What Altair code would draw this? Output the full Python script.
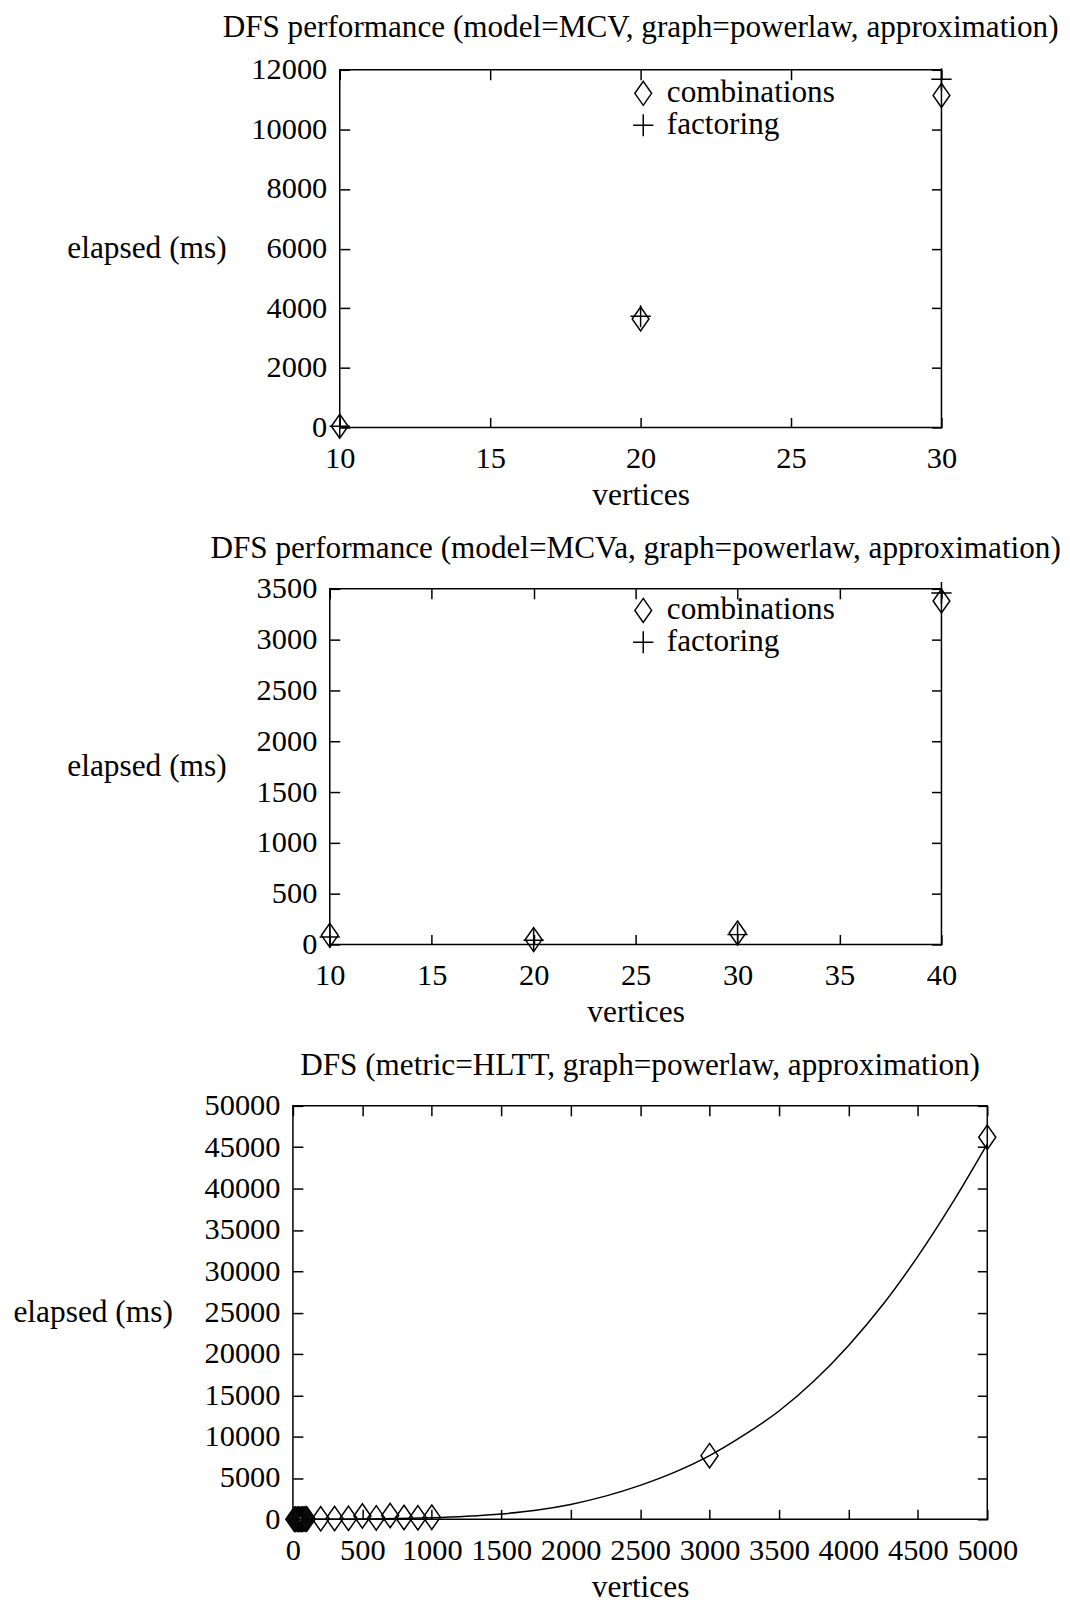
import altair as alt
import pandas as pd

# ---------------- data ----------------
p1_x = [10, 20, 30]
p1_comb = [40, 3640, 11140]
p1_fact = [40, 3730, 11680]

p2_x = [10, 20, 30, 40]
p2_comb = [90, 48, 113, 3380]
p2_fact = [74, 42, 97, 3460]

p3_x = [10, 20, 30, 40, 50, 60, 70, 80, 90, 100,
        200, 300, 400, 500, 600, 700, 800, 900, 1000, 3000, 5000]
p3_y = [2, 4, 6, 9, 12, 16, 20, 25, 30, 36,
        60, 90, 120, 400, 170, 450, 220, 180, 260, 7700, 46200]

fit_x = [0, 250, 500, 750, 1000, 1250, 1500, 1750, 2000, 2250, 2500,
         2750, 3000, 3250, 3500, 3750, 4000, 4250, 4500, 4750, 5000]
fit_y = [0, 10, 30, 90, 200, 380, 650, 1100, 1800, 2800, 4100,
         5700, 7700, 10200, 13100, 16700, 21000, 26000, 31800, 38300, 45400]

titles = [
    "DFS performance (model=MCV, graph=powerlaw, approximation)",
    "DFS performance (model=MCVa, graph=powerlaw, approximation)",
    "DFS (metric=HLTT, graph=powerlaw, approximation)",
]
x_ticks = [
    [10, 15, 20, 25, 30],
    [10, 15, 20, 25, 30, 35, 40],
    list(range(0, 5001, 500)),
]
y_ticks = [
    list(range(0, 12001, 2000)),
    list(range(0, 3501, 500)),
    list(range(0, 50001, 5000)),
]
series_names = ["combinations", "factoring"]

# ---------------- style ----------------
FONT = "Liberation Serif"
FS = 30.5      # tick labels
LFS = 31.3     # key labels
TFS = 31.3     # panel titles
ATFS = 31.5    # axis titles
TICK = 10
DIAMOND = "M0,-1L0.7,0L0,1L-0.7,0Z"
PLUS = "M-0.85,0L0.85,0M0,-0.92L0,0.92"


def encodings(xdom, xt, ydom, yt, H, title_x):
    xe = alt.X("x:Q", scale=alt.Scale(domain=xdom, nice=False, zero=False),
               axis=alt.Axis(values=xt, orient="bottom", offset=-TICK, tickSize=TICK,
                             labelPadding=16, domain=False, grid=False, labelFlush=False,
                             labelOverlap=False, format="d", title="vertices", titlePadding=6))
    ye = alt.Y("y:Q", scale=alt.Scale(domain=ydom, nice=False, zero=False),
               axis=alt.Axis(values=yt, orient="left", offset=-TICK, tickSize=TICK,
                             labelPadding=13, domain=False, grid=False, labelOverlap=False,
                             format="d", title="elapsed (ms)", titleAngle=0,
                             titleAlign="right", titleBaseline="middle",
                             titleX=title_x, titleY=H / 2))
    return xe, ye


def mirror(xdom, xt, ydom, yt, H, left_extent):
    # mirrored (inward) ticks on the top and right edges; the blank top-axis title only
    # pins the panel's left bound so the three panels sit where they do in the original
    df = pd.DataFrame({"x": [xdom[0]], "y": [ydom[0]]})
    return alt.Chart(df).mark_point(opacity=0).encode(
        x=alt.X("x:Q", scale=alt.Scale(domain=xdom, nice=False, zero=False),
                axis=alt.Axis(values=xt, orient="top", offset=-TICK, tickSize=TICK,
                              labels=False, domain=False, grid=False, title="\u00a0",
                              titleX=-left_extent, titleY=H / 2, titleAlign="left",
                              titleColor="white", titleFontSize=10)),
        y=alt.Y("y:Q", scale=alt.Scale(domain=ydom, nice=False, zero=False),
                axis=alt.Axis(values=yt, orient="right", offset=-TICK, tickSize=TICK,
                              labels=False, domain=False, grid=False, title=None)),
    )


def panel_title(text, off):
    return alt.TitleParams(text, fontSize=TFS, font=FONT, fontWeight="normal",
                           anchor="middle", baseline="alphabetic", offset={"expr": str(off)},
                           color="black")


def legend_panel(idx, xs, comb, fact, xdom, ydom, W, H, title_x, left_extent, leg_y, t_off):
    df = pd.DataFrame({
        "x": xs + xs,
        "y": comb + fact,
        "series": [series_names[0]] * len(xs) + [series_names[1]] * len(xs),
    })
    xe, ye = encodings(xdom, x_ticks[idx], ydom, y_ticks[idx], H, title_x)
    pts = alt.Chart(df).mark_point(filled=False, color="black", strokeWidth=1.5, size=576,
                                   opacity=1).encode(
        x=xe, y=ye,
        shape=alt.Shape("series:N",
                        scale=alt.Scale(domain=series_names, range=[DIAMOND, PLUS]),
                        legend=alt.Legend(orient="none", legendX=620, legendY=leg_y,
                                          labelOffset=8, rowPadding=0, padding=0, title=None,
                                          symbolStrokeColor="black", symbolStrokeWidth=1.5,
                                          symbolSize=576, labelFontSize=LFS, labelFont=FONT,
                                          labelColor="black", labelLimit=400)),
    )
    return alt.layer(pts, mirror(xdom, x_ticks[idx], ydom, y_ticks[idx], H, left_extent)
                     ).resolve_scale(x="independent", y="independent").properties(
        width=W, height=H, title=panel_title(titles[idx], t_off))


W1, H1 = 604, 359
W2, H2 = 614, 357
W3, H3 = 697, 415

panel1 = legend_panel(0, p1_x, p1_comb, p1_fact, [10, 30], [0, 12000], W1, H1,
                      -124, 328, 8, -13.5)
panel2 = legend_panel(1, p2_x, p2_comb, p2_fact, [10, 40], [0, 3500], W2, H2,
                      -114, 318, 6, -15.5)

df3 = pd.DataFrame({"x": p3_x, "y": p3_y})
dff = pd.DataFrame({"x": fit_x, "y": fit_y})
xe3, ye3 = encodings([0, 5000], x_ticks[2], [0, 50000], y_ticks[2], H3, -131)
line3 = alt.Chart(dff).mark_line(color="black", strokeWidth=1.5, interpolate="monotone").encode(
    x=xe3, y=ye3)
pts3 = alt.Chart(df3).mark_point(filled=False, color="black", strokeWidth=1.5, size=600,
                                 shape=DIAMOND, opacity=1).encode(x=xe3, y=ye3)
panel3 = alt.layer(alt.layer(line3, pts3),
                   mirror([0, 5000], x_ticks[2], [0, 50000], y_ticks[2], H3, 281)
                   ).resolve_scale(x="independent", y="independent").properties(
    width=W3, height=H3, title=panel_title(titles[2], -15.5))


def spacer():
    # 1px blank cell in front of each panel: a following column is placed by its own
    # left extent, so each panel keeps the left margin of the original page
    return alt.Chart(pd.DataFrame({"a": [0]})).mark_point(opacity=0, size=1).encode(
        x=alt.value(0), y=alt.value(0)).properties(
        width=1, height=1, view=alt.ViewBackground(stroke="transparent"))


rows = [alt.hconcat(spacer(), p, spacing=0) for p in (panel1, panel2, panel3)]

chart = alt.vconcat(*rows, spacing=20).resolve_scale(shape="independent").resolve_legend(
    shape="independent").configure(
    font=FONT
).configure_view(stroke="black", strokeWidth=1.5).configure_axis(
    labelFont=FONT, titleFont=FONT, labelFontSize=FS, titleFontSize=ATFS,
    titleFontWeight="normal", labelColor="black", titleColor="black",
    tickColor="black", tickWidth=1.5
).properties(background="white", padding={"top": 0, "left": 0, "right": 0, "bottom": 0})

chart.save("out.html", embed_options={"renderer": "svg", "actions": False})
